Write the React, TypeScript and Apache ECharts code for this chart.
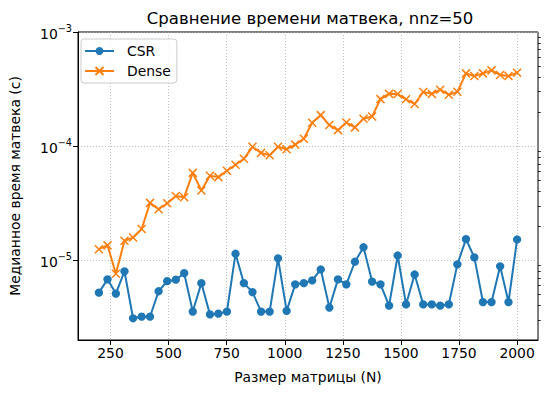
import React, { useEffect, useRef } from "react";
import * as echarts from "echarts";

const sizes = [200, 237, 273, 310, 347, 384, 420, 457, 494, 531, 567, 604, 641, 678, 714, 751, 788, 824, 861, 898, 935, 971, 1008, 1045, 1082, 1118, 1155, 1192, 1229, 1265, 1302, 1339, 1376, 1412, 1449, 1486, 1522, 1559, 1596, 1633, 1669, 1706, 1743, 1780, 1816, 1853, 1890, 1927, 1963, 2000];

const csrTimes = [5.2e-6, 6.8e-6, 5.1e-6, 8.0e-6, 3.1e-6, 3.2e-6, 3.2e-6, 5.35e-6, 6.55e-6, 6.75e-6, 7.7e-6, 3.55e-6, 6.3e-6, 3.35e-6, 3.4e-6, 3.55e-6, 1.14e-5, 6.3e-6, 5.25e-6, 3.55e-6, 3.55e-6, 1.04e-5, 3.6e-6, 6.15e-6, 6.3e-6, 6.65e-6, 8.3e-6, 3.85e-6, 6.8e-6, 6.15e-6, 9.7e-6, 1.3e-5, 6.5e-6, 6.15e-6, 4.0e-6, 1.1e-5, 4.1e-6, 7.5e-6, 4.1e-6, 4.1e-6, 4.0e-6, 4.1e-6, 9.2e-6, 1.53e-5, 1.06e-5, 4.3e-6, 4.3e-6, 8.85e-6, 4.3e-6, 1.52e-5];

const denseTimes = [1.25e-5, 1.35e-5, 7.6e-6, 1.48e-5, 1.58e-5, 1.88e-5, 3.18e-5, 2.8e-5, 3.16e-5, 3.66e-5, 3.57e-5, 5.83e-5, 4.08e-5, 5.49e-5, 5.35e-5, 6.08e-5, 6.86e-5, 7.74e-5, 9.86e-5, 8.73e-5, 8.33e-5, 9.86e-5, 9.4e-5, 1.03e-4, 1.16e-4, 1.6e-4, 1.87e-4, 1.53e-4, 1.38e-4, 1.61e-4, 1.46e-4, 1.74e-4, 1.82e-4, 2.58e-4, 2.87e-4, 2.86e-4, 2.57e-4, 2.34e-4, 2.98e-4, 2.87e-4, 3.12e-4, 2.82e-4, 2.99e-4, 4.34e-4, 4.11e-4, 4.34e-4, 4.61e-4, 4.2e-4, 4.11e-4, 4.4e-4];

const xTicks = [250, 500, 750, 1000, 1250, 1500, 1750, 2000];
const yMajorTicks = [1e-5, 1e-4, 1e-3];
const yMinorTicks = [3e-6, 4e-6, 5e-6, 6e-6, 7e-6, 8e-6, 9e-6, 2e-5, 3e-5, 4e-5, 5e-5, 6e-5, 7e-5, 8e-5, 9e-5, 2e-4, 3e-4, 4e-4, 5e-4, 6e-4, 7e-4, 8e-4, 9e-4];

const seriesNames = ["CSR", "Dense"];
const titleText = "Сравнение времени матвека, nnz=50";
const xName = "Размер матрицы (N)";
const yName = "Медианное время матвека (с)";

const FONT = "DejaVu Sans";

export default function App() {
  const ref = useRef<HTMLDivElement>(null);
  useEffect(() => {
    document.body.style.margin = "0";
    const chart = echarts.init(ref.current!, null, { renderer: "svg" });
    const fmtPow = (v: number) => {
      const e = Math.round(Math.log10(v));
      return `{b|10}{s|${e < 0 ? "\u2212" : ""}${Math.abs(e)}}`;
    };
    chart.setOption({
      animation: false,
      backgroundColor: "#fff",
      textStyle: { fontFamily: FONT },
      title: {
        text: titleText,
        left: 305,
        textAlign: "center",
        top: 5,
        textStyle: { fontFamily: FONT, fontSize: 16.5, fontWeight: "normal", color: "#000" },
      },
      legend: {
        left: 81,
        top: 39,
        orient: "vertical",
        itemWidth: 29,
        itemHeight: 10,
        itemGap: 6,
        padding: [5, 6, 5, 3],
        backgroundColor: "rgba(255,255,255,0.8)",
        borderColor: "#cccccc",
        borderWidth: 1,
        borderRadius: 3,
        textStyle: { fontFamily: FONT, fontSize: 13.9, color: "#000", padding: [0, 0, 0, 8] },
        data: seriesNames,
      },
      grid: {
        left: 73,
        right: 9,
        top: 32,
        bottom: 53,
        show: true,
        borderColor: "#000",
        borderWidth: 1,
        backgroundColor: "transparent",
      },
      xAxis: {
        type: "value",
        min: 110,
        max: 2090,
        name: xName,
        nameLocation: "middle",
        nameGap: 30,
        nameTextStyle: { fontFamily: FONT, fontSize: 13.9, color: "#000" },
        axisLine: { show: true, lineStyle: { color: "#000", width: 1 } },
        axisTick: { show: true, length: 5, customValues: xTicks, lineStyle: { color: "#000", width: 1 } },
        axisLabel: {
          customValues: xTicks,
          formatter: (v: number) => String(v),
          fontFamily: FONT,
          fontSize: 13.9,
          color: "#000",
          margin: 6,
        },
        splitLine: { show: true, lineStyle: { color: "#b0b0b0", width: 0.8, type: [1, 2] } },
      },
      yAxis: [
        {
          type: "log",
          logBase: 10,
          min: 2e-6,
          max: 1e-3,
          name: yName,
          nameLocation: "middle",
          nameGap: 56,
          nameTextStyle: { fontFamily: FONT, fontSize: 13.9, color: "#000" },
          axisLine: { show: true, lineStyle: { color: "#000", width: 1 } },
          axisTick: { show: true, length: 5, customValues: yMajorTicks, lineStyle: { color: "#000", width: 1 } },
          axisLabel: {
            customValues: yMajorTicks,
            formatter: fmtPow,
            margin: 6,
            rich: {
              b: { fontFamily: FONT, fontSize: 13.9, color: "#000", lineHeight: 18, verticalAlign: "bottom" },
              s: { fontFamily: FONT, fontSize: 9.7, color: "#000", lineHeight: 18, verticalAlign: "top" },
            },
          },
          splitLine: { show: true, lineStyle: { color: "#b0b0b0", width: 0.8, type: [1, 2] } },
        },
        {
          type: "log",
          logBase: 10,
          min: 2e-6,
          max: 1e-3,
          axisLine: { show: false },
          axisTick: { show: true, length: 2.8, customValues: yMinorTicks, lineStyle: { color: "#000", width: 0.8 } },
          axisLabel: { show: false },
          splitLine: { show: false },
        },
      ],
      series: [
        {
          name: seriesNames[0],
          type: "line",
          data: sizes.map((n, i) => [n, csrTimes[i]]),
          symbol: "circle",
          symbolSize: 8.3,
          showAllSymbol: true,
          lineStyle: { color: "#1f77b4", width: 2 },
          itemStyle: { color: "#1f77b4" },
        },
        {
          name: seriesNames[1],
          type: "line",
          data: sizes.map((n, i) => [n, denseTimes[i]]),
          symbol: "path://M0,0L10,10M10,0L0,10",
          symbolSize: 8,
          showAllSymbol: true,
          lineStyle: { color: "#ff7f0e", width: 2 },
          itemStyle: { color: "#ff7f0e", borderColor: "#ff7f0e", borderWidth: 1.5 },
        },
      ],
    });
    return () => chart.dispose();
  }, []);
  return <div ref={ref} style={{ position: "absolute", left: 0, top: 0, width: 547, height: 393 }} />;
}
